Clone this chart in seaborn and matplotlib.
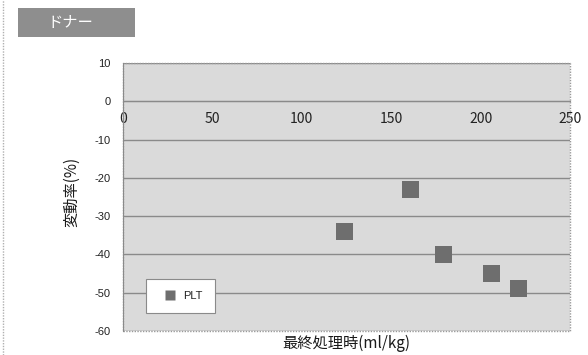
import matplotlib
matplotlib.use("Agg")
import matplotlib.pyplot as plt
import matplotlib.patches as mpatches
import seaborn as sns
import pandas as pd

# measurements: final processing volume vs. change rate
final_volume = [124, 161, 179, 206, 221]
change_rate = [-34, -23, -40, -45, -49]
series_name = "PLT"

x_ticks = [0, 50, 100, 150, 200, 250]
y_ticks = [10, 0, -10, -20, -30, -40, -50, -60]

title_text = "ドナー"
x_label = "最終処理時(ml/kg)"
y_label = "変動率(%)"

sns.set_style("white")
plt.rcParams["font.family"] = ["Noto Sans CJK JP", "DejaVu Sans"]

df = pd.DataFrame({"x": final_volume, "y": change_rate, "s": series_name})

fig = plt.figure(figsize=(5.88, 3.55), dpi=100)
fig.patch.set_facecolor("white")
ax = fig.add_axes([0.2092, 0.0676, 0.7602, 0.7549])
ax.set_facecolor("#dadada")

sns.scatterplot(data=df, x="x", y="y", hue="s", palette=["#6e6e6e"],
                marker="s", s=150, edgecolor="none", ax=ax, zorder=3)

ax.set_xlim(0, 250)
ax.set_ylim(-60, 10)
ax.set_xticks(x_ticks)
ax.set_yticks(y_ticks)
ax.set_xticklabels([str(v) for v in x_ticks], fontsize=8, family="Liberation Sans")
ax.set_yticklabels([str(v) for v in y_ticks], fontsize=8, family="Liberation Sans")

# horizontal grid lines
for v in y_ticks:
    ax.axhline(v, color="#8a8a8a", lw=1.0, zorder=1)

# plot-area border, dotted
for side in ["top", "right"]:
    ax.spines[side].set_visible(False)
ax.spines["left"].set_color("#8a8a8a")
ax.spines["bottom"].set_position(("data", 0))
ax.spines["bottom"].set_color("#8a8a8a")
ax.add_patch(mpatches.Rectangle((0, 0), 1, 1, transform=ax.transAxes, fill=False,
                                edgecolor="#9a9a9a", lw=1.0, ls=(0, (1, 1)), zorder=2,
                                clip_on=False))

ax.tick_params(axis="x", direction="inout", length=4, color="#8a8a8a", pad=6, labelcolor="#222222")
ax.tick_params(axis="y", direction="out", length=3, color="#8a8a8a", pad=6, labelcolor="#222222")

ax.set_xlabel(x_label, fontsize=11, color="#1a1a1a")
ax.set_ylabel(y_label, fontsize=11, color="#1a1a1a")
ax.xaxis.label.set_va("center")
ax.yaxis.label.set_va("center")
ax.xaxis.set_label_coords(0.5, -0.045)
ax.yaxis.set_label_coords(-0.115, 0.52)

leg = ax.legend(loc="lower left", bbox_to_anchor=(0.051, 0.067), borderaxespad=0,
                frameon=True, fancybox=False, edgecolor="#8a8a8a", framealpha=1,
                prop={"family": "Liberation Sans", "size": 8}, markerscale=0.55,
                handletextpad=0.1, borderpad=1.1, handlelength=2.2)
leg.get_frame().set_linewidth(0.8)
for t in leg.get_texts():
    t.set_color("#222222")

# header badge
fig.patches.append(mpatches.Rectangle((18 / 588, 1 - 37 / 355), 117 / 588, 29 / 355,
                                      transform=fig.transFigure, facecolor="#8e8e8e",
                                      edgecolor="none", figure=fig))
fig.text(47 / 588, 1 - 22.5 / 355, title_text, color="white", fontsize=11,
         va="center", ha="left")

# left page rule
fig.add_artist(plt.Line2D([2.5 / 588, 2.5 / 588], [0, 1], transform=fig.transFigure,
                          color="#b0b0b0", lw=1.0, ls=(0, (1, 1))))

fig.savefig("out.png", dpi=100)
